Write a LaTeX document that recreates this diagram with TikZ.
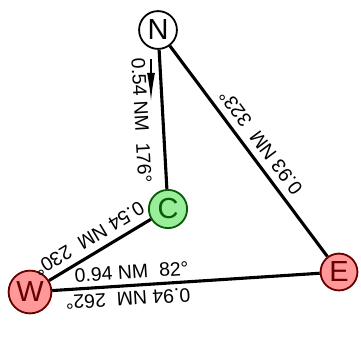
\documentclass[tikz,border=0pt]{standalone}
\usepackage{fontspec}
\setmainfont{Liberation Sans}
\usepackage{xcolor}
\usetikzlibrary{arrows.meta,calc}
\definecolor{lightgreen}{HTML}{99EE99}
\definecolor{darkgreen}{HTML}{0A5A0A}
\definecolor{lightred}{HTML}{FF9999}
\definecolor{darkred}{HTML}{660000}
\tikzset{
    waypoint/.style = {circle, draw=black, fill=white, line width=1.8pt, inner sep=3.2pt, font=\fontsize{29}{29}\selectfont},
    waypoint-green/.style = {waypoint, draw=darkgreen, fill=lightgreen, text=darkgreen},
    waypoint-red/.style = {waypoint, draw=darkred, fill=lightred, text=darkred},
    leg/.style = {line width=3.1pt},
    leg-label/.style = {sloped, allow upside down, font=\fontsize{19.5}{19.5}\selectfont, inner sep=5pt},
}

\begin{document}
\begin{tikzpicture}[x=1pt,y=1pt]
\useasboundingbox (0,0) rectangle (361,-343);
\node[waypoint] (N) at (158,-30) {N};
\node[waypoint-green] (C) at (168,-209) {C};
\node[waypoint-red] (W) at (30,-292) {W};
\node[waypoint-red] (E) at (339,-272) {E};

\draw[leg] (N) -- (C) node[leg-label, midway, below, inner ysep=13pt] {0.54 NM~~176°};
\draw[leg] (N) -- (E);
\path (E) -- (N) node[leg-label, midway, below, inner ysep=8pt] {0.93 NM~~323°};
\draw[leg] (W) -- (C);
\path (C) -- (W) node[leg-label, pos=0.53, below, inner ysep=8pt] {0.54 NM~~230°};
\draw[leg] (W) -- (E) node[leg-label, pos=0.3, above] {0.94 NM~~82°};
\path (E) -- (W) node[leg-label, pos=0.72, above, inner ysep=6pt] {0.94 NM~~262°};

% heading arrow
\coordinate (heading-start) at ($(N.south)+(-7,-9)$);
\coordinate (heading-end) at ($(heading-start)+(0,-42)$);
\draw[line width=1.2pt, -{Latex[length=28pt,width=8pt]}] (heading-start) -- (heading-end);
\end{tikzpicture}
\end{document}
